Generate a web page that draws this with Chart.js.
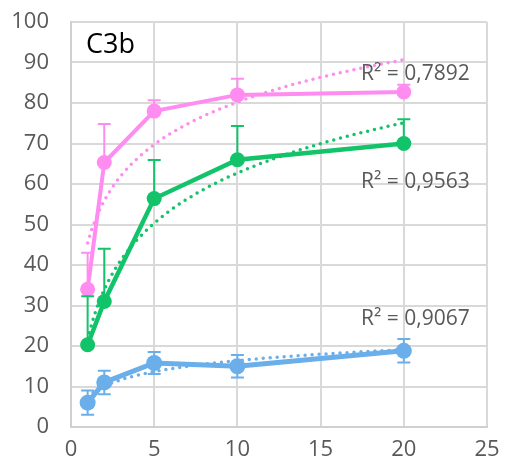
<!DOCTYPE html>
<html>
<head>
<meta charset="utf-8">
<script src="https://cdn.jsdelivr.net/npm/chart.js@4/dist/chart.umd.min.js"></script>
<style>
  html, body { margin: 0; padding: 0; background: #fff; }
  #wrap { width: 505px; height: 471px; }
</style>
</head>
<body>
<div id="wrap"><canvas id="myChart"></canvas></div>
<script>
// concentrations (x) and measured values
const xs = [1, 2, 5, 10, 20];
const pink = [34, 65.3, 78, 82, 82.7];
const pinkErr = [9, 9.5, 2.7, 4, 1.8];
const green = [20.3, 31, 56.4, 66, 70];
const greenErr = [12, 13, 9.5, 8.3, 6];
const blue = [6, 11, 15.8, 15, 18.8];
const blueErr = [3, 2.9, 2.7, 2.8, 2.9];
const xTicks = [0, 5, 10, 15, 20, 25];
const yTicks = [0, 10, 20, 30, 40, 50, 60, 70, 80, 90, 100];
const r2Labels = ["R² = 0,7892", "R² = 0,9563", "R² = 0,9067"];

const PINK = "#ff8cf0";
const GREEN = "#12c36a";
const BLUE = "#6aaeea";

// logarithmic trendline (least squares on ln x), like the spreadsheet one
function logFit(ys) {
  const lx = xs.map((x) => Math.log(x));
  const mx = lx.reduce((a, b) => a + b, 0) / lx.length;
  const my = ys.reduce((a, b) => a + b, 0) / ys.length;
  let sxy = 0, sxx = 0;
  lx.forEach((v, i) => { sxy += (v - mx) * (ys[i] - my); sxx += (v - mx) * (v - mx); });
  const a = sxy / sxx;
  const b = my - a * mx;
  const pts = [];
  for (let x = 1; x <= 20.001; x += 0.25) pts.push({ x: x, y: a * Math.log(x) + b });
  return pts;
}

const toPts = (ys) => xs.map((x, i) => ({ x: x, y: ys[i] }));

function trend(ys, color) {
  return {
    data: logFit(ys),
    borderColor: color,
    borderWidth: 3.5,
    borderDash: [0, 7],
    borderCapStyle: "round",
    pointRadius: 0,
    showLine: true,
    fill: false,
  };
}

function series(ys, color, width, radius) {
  return {
    data: toPts(ys),
    borderColor: color,
    backgroundColor: color,
    borderWidth: width,
    pointRadius: radius,
    pointBorderWidth: 0,
    showLine: true,
    fill: false,
  };
}

const errSets = [
  { vals: pink, err: pinkErr, color: PINK, both: false },
  { vals: green, err: greenErr, color: GREEN, both: false },
  { vals: blue, err: blueErr, color: BLUE, both: true },
];

const errorBars = {
  id: "errorBars",
  afterDatasetsDraw(chart) {
    const ctx = chart.ctx;
    const sx = chart.scales.x, sy = chart.scales.y;
    ctx.save();
    ctx.lineWidth = 2;
    errSets.forEach((s) => {
      ctx.strokeStyle = s.color;
      xs.forEach((x, i) => {
        const px = sx.getPixelForValue(x);
        const top = sy.getPixelForValue(s.vals[i] + s.err[i]);
        const bot = sy.getPixelForValue(s.both ? s.vals[i] - s.err[i] : s.vals[i]);
        ctx.beginPath();
        ctx.moveTo(px, top); ctx.lineTo(px, bot);
        ctx.moveTo(px - 6.5, top); ctx.lineTo(px + 6.5, top);
        if (s.both) { ctx.moveTo(px - 6.5, bot); ctx.lineTo(px + 6.5, bot); }
        ctx.stroke();
      });
    });
    ctx.restore();
  },
};

const labelPos = [{ x: 20.7, y: 87.1 }, { x: 20.7, y: 60.6 }, { x: 20.7, y: 26.7 }];

const textLabels = {
  id: "textLabels",
  afterDraw(chart) {
    const ctx = chart.ctx;
    const sx = chart.scales.x, sy = chart.scales.y;
    ctx.save();
    ctx.textAlign = "center";
    ctx.textBaseline = "middle";
    ctx.fillStyle = "#595959";
    ctx.font = "21px 'Open Sans'";
    r2Labels.forEach((t, i) => {
      ctx.fillText(t, sx.getPixelForValue(labelPos[i].x), sy.getPixelForValue(labelPos[i].y));
    });
    ctx.fillStyle = "#000";
    ctx.font = "27px 'Open Sans'";
    ctx.textAlign = "left";
    ctx.fillText("C3b", 86, 45);
    ctx.restore();
  },
};

const config = {
  type: "scatter",
  data: {
    datasets: [
      trend(pink, PINK),
      trend(green, GREEN),
      trend(blue, BLUE),
      series(pink, PINK, 4, 7.5),
      series(green, GREEN, 4.5, 7.5),
      series(blue, BLUE, 5, 8),
    ],
  },
  options: {
    responsive: true,
    maintainAspectRatio: false,
    animation: false,
    layout: { padding: { top: 22, right: 18, left: 0, bottom: 0 } },
    plugins: { legend: { display: false }, tooltip: { enabled: false } },
    scales: {
      x: {
        type: "linear",
        min: 0,
        max: 25,
        afterBuildTicks: (s) => { s.ticks = xTicks.map((v) => ({ value: v })); },
        afterFit: (s) => { s.height = 44; s.paddingLeft = 0; s.paddingRight = 0; },
        grid: { color: "#d9d9d9", lineWidth: 2, drawTicks: false },
        border: { color: "#d0d0d0", width: 2 },
        ticks: { color: "#595959", font: { family: "Open Sans", size: 22 }, padding: 10 },
      },
      y: {
        min: 0,
        max: 100,
        afterBuildTicks: (s) => { s.ticks = yTicks.map((v) => ({ value: v })); },
        afterFit: (s) => { s.width = 71; s.paddingTop = 0; s.paddingBottom = 0; },
        grid: { color: "#d9d9d9", lineWidth: 2, drawTicks: false },
        border: { color: "#d0d0d0", width: 2 },
        ticks: { color: "#595959", font: { family: "Open Sans", size: 22 }, padding: 22 },
      },
    },
  },
  plugins: [errorBars, textLabels],
};

const myChart = new Chart(document.getElementById("myChart"), config);
</script>
</body>
</html>
